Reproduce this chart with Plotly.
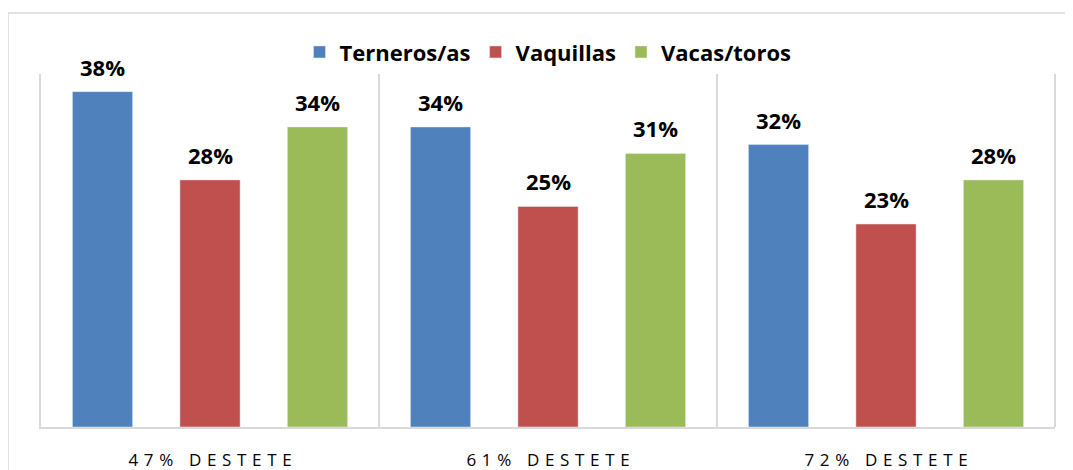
import plotly.graph_objects as go

categories = ["47% DESTETE", "61% DESTETE", "72% DESTETE"]
sp = "\u2004"
tick_labels = [sp.join("47%") + sp + " " + sp + sp.join("DESTETE"),
               sp.join("61%") + sp + " " + sp + sp.join("DESTETE"),
               sp.join("72%") + sp + " " + sp + sp.join("DESTETE")]
series_names = ["Terneros/as", "Vaquillas", "Vacas/toros"]
terneros = [38, 34, 32]
vaquillas = [28, 25, 23]
vacas = [34, 31, 28]
colors = ["#4f81bd", "#c0504d", "#9bbb59"]

FONT = "Open Sans"
BARGAP = 0.046
fig = go.Figure()
all_vals = [terneros, vaquillas, vacas]
for name, vals, col in zip(series_names, all_vals, colors):
    fig.add_trace(go.Bar(name=name, x=categories, y=vals, marker_color=col))

# value labels placed above each bar (offset within group, category index units)
slot = (1 - BARGAP) / len(series_names)
for k, vals in enumerate(all_vals):
    off = (k - (len(series_names) - 1) / 2) * slot
    for i, v in enumerate(vals):
        fig.add_annotation(x=i + off, y=v, text=f"<b>{v}%</b>", showarrow=False,
                           yanchor="bottom", yshift=8,
                           font=dict(family=FONT, size=22, color="#000000"))

fig.update_layout(
    width=1065, height=462,
    margin=dict(l=33, r=18, t=66, b=43, autoexpand=False),
    paper_bgcolor="white", plot_bgcolor="white",
    barmode="group", bargap=BARGAP, bargroupgap=0.44,
    showlegend=True,
    legend=dict(orientation="h", x=0.5, xanchor="center", y=1.062, yanchor="middle",
                font=dict(family=FONT, size=22, color="#000000", weight="bold"),
                traceorder="normal"),
    font=dict(family=FONT),
)
fig.update_xaxes(
    type="category", automargin=False,
    tickmode="array", tickvals=categories, ticktext=tick_labels,
    tickfont=dict(family=FONT, size=17, color="#000000"),
    showline=True, linecolor="#d9d9d9", linewidth=2,
    tickson="boundaries", showgrid=True, gridcolor="#d9d9d9", gridwidth=2,
    ticks="", ticklen=0, ticklabelstandoff=17, range=[-0.5, 2.5],
)
fig.update_yaxes(range=[0, 40], showgrid=False, showticklabels=False, zeroline=False,
                 automargin=False,
                 showline=True, linecolor="#d9d9d9", linewidth=2)

# right edge of plot area and outer chart border
fig.add_shape(type="line", xref="paper", yref="paper", x0=1, x1=1, y0=0, y1=1,
              line=dict(color="#d9d9d9", width=2))
fig.add_shape(type="line", xref="paper", yref="paper", x0=-0.0325, x1=1.1, y0=1.173, y1=1.173,
              line=dict(color="#d9d9d9", width=1.5))
fig.add_shape(type="line", xref="paper", yref="paper", x0=-0.0325, x1=-0.0325, y0=1.173, y1=-0.2,
              line=dict(color="#d9d9d9", width=1.5))

fig.write_html("out.html")
